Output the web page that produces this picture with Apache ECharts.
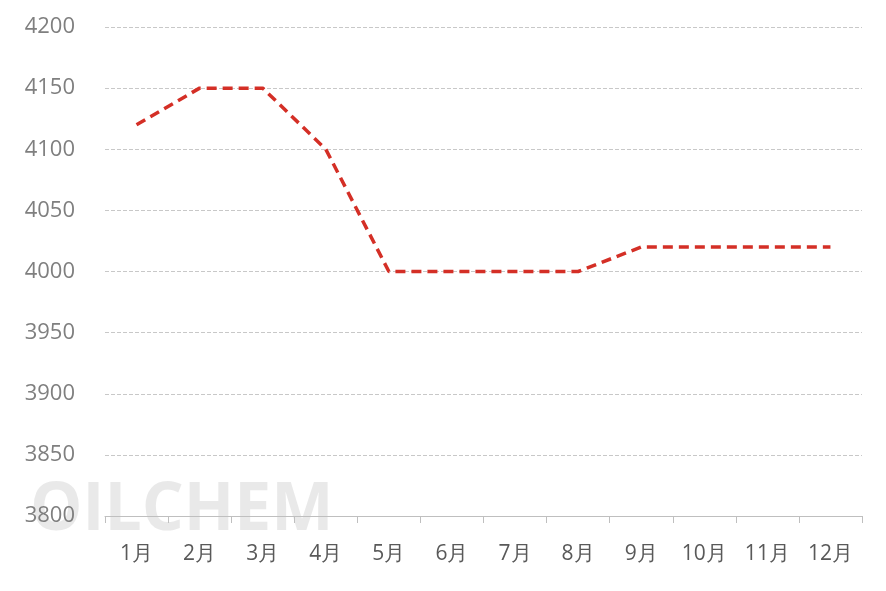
<!DOCTYPE html>
<html>
<head>
<meta charset="utf-8">
<script src="https://cdn.jsdelivr.net/npm/echarts@6/dist/echarts.min.js"></script>
<style>html,body{margin:0;padding:0;background:#fff}#main{width:886px;height:591px}</style>
</head>
<body>
<div id="main"></div>
<script>
var months = ['1月','2月','3月','4月','5月','6月','7月','8月','9月','10月','11月','12月'];
var prices = [4120, 4150, 4150, 4100, 4000, 4000, 4000, 4000, 4020, 4020, 4020, 4020];

var chart = echarts.init(document.getElementById('main'));
chart.setOption({
  animation: false,
  grid: { left: 105, right: 24, top: 27, bottom: 75 },
  graphic: [{
    type: 'text', left: 30, top: 478, z: -1,
    style: { text: 'OILCHEM', fontSize: 66, fontWeight: 'bold', fontFamily: 'Open Sans',
      fill: 'rgba(215,215,215,0.55)' }
  }],
  xAxis: {
    type: 'category', data: months, boundaryGap: true,
    axisLine: { lineStyle: { color: '#bfbfbf' } },
    axisTick: { show: true, length: 7, lineStyle: { color: '#bfbfbf' } },
    axisLabel: { color: '#595959', fontSize: 21, fontFamily: 'Open Sans', margin: 28 }
  },
  yAxis: {
    type: 'value', min: 3800, max: 4200, interval: 50,
    axisLine: { show: false }, axisTick: { show: false },
    axisLabel: { color: '#7f7f7f', fontSize: 22, fontFamily: 'Open Sans', margin: 30,
      formatter: function (v) { return String(v); } },
    splitLine: { lineStyle: { color: '#c8c8c8', type: 'dashed' } }
  },
  series: [{
    type: 'line', data: prices, symbol: 'none', z: 3,
    lineStyle: { color: '#d42f26', width: 3.5, type: [10, 6] }
  }]
});
</script>
</body>
</html>
